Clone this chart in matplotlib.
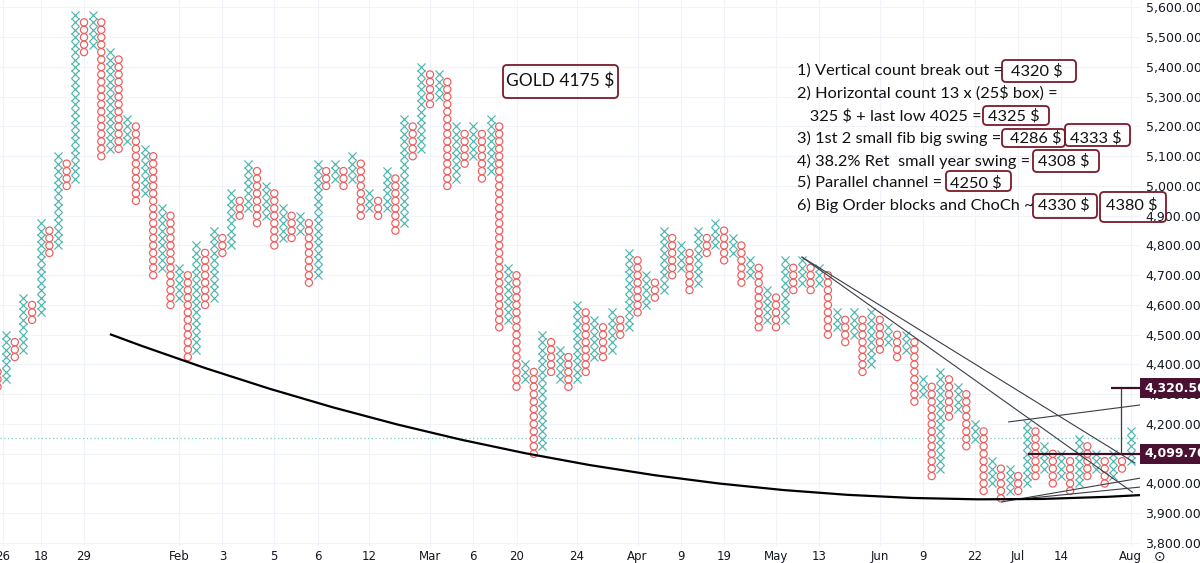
import matplotlib
matplotlib.use("Agg")
import matplotlib.pyplot as plt
from matplotlib.patches import FancyBboxPatch, PathPatch
from matplotlib.path import Path
import matplotlib.transforms as mtransforms
import numpy as np

plt.rcParams['font.family'] = ['DejaVu Sans']

BOX = 25  # box size in $

# point & figure columns (first column is O, then X/O alternate)
col_high = [4375, 4500, 4475, 4625, 4600, 4875, 4850, 5100, 5075, 5575,
            5550, 5575, 5550, 5450, 5425, 5225, 5200, 5125, 5100, 4925,
            4900, 4725, 4700, 4800, 4775, 4850, 4825, 4975, 4950, 5075,
            5050, 5000, 4975, 4925, 4900, 4900, 4875, 5075, 5050, 5075,
            5050, 5100, 5075, 4975, 4950, 5050, 5025, 5225, 5200, 5400,
            5375, 5375, 5350, 5200, 5175, 5200, 5175, 5225, 5200, 4725,
            4700, 4400, 4375, 4500, 4475, 4450, 4425, 4600, 4575, 4550,
            4525, 4575, 4550, 4775, 4750, 4700, 4675, 4850, 4825, 4800,
            4775, 4850, 4825, 4875, 4850, 4825, 4800, 4750, 4725, 4650,
            4625, 4750, 4725, 4750, 4725, 4725, 4700, 4575, 4550, 4575,
            4550, 4575, 4550, 4525, 4500, 4500, 4475, 4350, 4325, 4375,
            4350, 4325, 4300, 4200, 4175, 4075, 4050, 4050, 4025, 4200,
            4175, 4125, 4100, 4100, 4075, 4150, 4125, 4100, 4075, 4100,
            4075, 4175]
col_low = [4325, 4350, 4425, 4450, 4550, 4575, 4775, 4800, 5000, 5025,
           5450, 5475, 5100, 5125, 5125, 5150, 4950, 4975, 4700, 4725,
           4600, 4625, 4425, 4450, 4600, 4625, 4775, 4800, 4900, 4925,
           4875, 4900, 4800, 4825, 4825, 4850, 4675, 4700, 5000, 5025,
           5000, 5025, 4900, 4925, 4900, 4925, 4850, 4875, 5100, 5125,
           5275, 5300, 5000, 5025, 5075, 5100, 5025, 5050, 4525, 4550,
           4325, 4350, 4100, 4125, 4375, 4350, 4325, 4350, 4375, 4425,
           4425, 4450, 4500, 4525, 4575, 4600, 4625, 4650, 4700, 4725,
           4650, 4675, 4775, 4800, 4750, 4775, 4675, 4700, 4525, 4550,
           4525, 4550, 4650, 4675, 4650, 4675, 4500, 4525, 4475, 4500,
           4375, 4400, 4450, 4475, 4425, 4450, 4275, 4300, 4025, 4050,
           4225, 4250, 4125, 4150, 3975, 4000, 3950, 3975, 3975, 4000,
           4025, 4050, 4000, 4025, 3975, 4000, 4025, 4050, 4000, 4025,
           4050, 4075]

tick_cols = [0.6, 5, 10, 21, 26, 32, 37, 43, 50, 55, 60, 67, 74, 79, 84,
             90, 95, 102, 107, 113, 118, 123, 131]
tick_labels = ["26", "18", "29", "Feb", "3", "5", "6", "12", "Mar", "6", "20",
               "24", "Apr", "9", "19", "May", "13", "Jun", "9", "22", "Jul",
               "14", "Aug"]
price_ticks = list(range(3800, 5700, 100))
last_price = 4153
tag_prices = [4320.5, 4099.7]

# hand drawn lines (column index, price)
trend_lines = [
    [(93.0, 4761), (131.2, 3971)],
    [(93.0, 4761), (131.5, 4069)],
    [(116.9, 4207), (132.1, 4264)],
    [(116.1, 3938), (132.1, 4018)],
    [(119.4, 3951), (132.1, 3988)],
]
curve_pts = [(13.0, 4502), (71.85, 3857), (132.1, 3961)]
target_col = 129.9

notes = [
    ("1) Vertical count break out =", ["4320 $"]),
    ("2) Horizontal count 13 x (25$ box) =", []),
    ("   325 $ + last low 4025 =", ["4325 $"]),
    ("3) 1st 2 small fib big swing =", ["4286 $", "4333 $"]),
    ("4) 38.2% Ret  small year swing =", ["4308 $"]),
    ("5) Parallel channel =", ["4250 $"]),
    ("6) Big Order blocks and ChoCh ~", ["4330 $", "4380 $"]),
]

X_COL = '#4db6ac'
O_COL = '#f05a5a'
TAG = '#4a1133'
RING = '#7a1a2a'

fig = plt.figure(figsize=(12, 5.63), dpi=100)
ax = fig.add_axes([0, 17 / 563, 1140 / 1200, 546 / 563])
ax.set_xlim(0.289, 132.08)
ax.set_ylim(3789.9, 5625.2)

xs_x, ys_x, xs_o, ys_o = [], [], [], []
for i, (hi, lo) in enumerate(zip(col_high, col_low)):
    lv = np.arange(lo, hi + 1, BOX)
    if i % 2 == 0:
        xs_o += [i] * len(lv)
        ys_o += list(lv)
    else:
        xs_x += [i] * len(lv)
        ys_x += list(lv)

ax.scatter(xs_x, ys_x, marker='x', s=34, c=X_COL, linewidths=0.85, zorder=3)
ax.scatter(xs_o, ys_o, marker='o', s=27, facecolors='none', edgecolors=O_COL,
           linewidths=0.85, zorder=3)

ax.axhline(last_price, color='#80cbc4', lw=0.9, ls=(0, (1, 2)), zorder=2)

for (x0, y0), (x1, y1) in trend_lines:
    ax.plot([x0, x1], [y0, y1], color='#3a3d47', lw=0.8, zorder=4)

curve = Path(curve_pts, [Path.MOVETO, Path.CURVE3, Path.CURVE3])
ax.add_patch(PathPatch(curve, fc='none', ec='black', lw=1.6, zorder=4))

ax.hlines(tag_prices[1], 119.1, 132.08, color='#3d0c25', lw=1.6, zorder=5)
ax.hlines(tag_prices[0], 128.7, 132.08, color='#3d0c25', lw=1.6, zorder=5)
ax.vlines(target_col, tag_prices[1], tag_prices[0], color='#3a3d47', lw=0.9, zorder=5)

ax.set_xticks(tick_cols)
ax.set_xticklabels(tick_labels)
ax.set_yticks(price_ticks)
ax.set_yticklabels([f"{p:,.2f}" for p in price_ticks])
ax.yaxis.tick_right()
ax.tick_params(axis='both', length=0, labelsize=8.5, colors='#131722')
ax.tick_params(axis='y', pad=4, labelsize=9)
ax.tick_params(axis='x', pad=3)
ax.grid(True, color='#f0f3fa', lw=0.8)
ax.set_axisbelow(True)
for s in ax.spines.values():
    s.set_visible(False)

trans = mtransforms.blended_transform_factory(ax.transAxes, ax.transData)
for p in tag_prices:
    ax.text(1.0035, p, f"{p:,.2f}", transform=trans, va='center', ha='left',
            fontsize=9, color='white', fontweight='bold', clip_on=False, zorder=10,
            bbox=dict(boxstyle='square,pad=0.3', fc=TAG, ec='none'))

# annotation layer in pixel units
ov = fig.add_axes([0, 0, 1, 1])
ov.set_xlim(0, 1200)
ov.set_ylim(563, 0)
ov.axis('off')
ov.set_facecolor('none')

tf = ['Lato', 'DejaVu Sans']
line_y = [71, 93, 116, 138, 161, 183, 205]
num_x = [[1011], [], [988], [1010, 1070], [1038], [950], [1038, 1106]]
for (txt, nums), y, nx in zip(notes, line_y, num_x):
    ov.text(797, y, txt, fontsize=11.8, family=tf, va='center', ha='left', color='#111111')
    for n, x in zip(nums, nx):
        ov.text(x, y, n, fontsize=11.8, family=tf, va='center', ha='left', color='#111111')

rings = [(1002, 60, 1076, 82), (983, 106, 1049, 125), (1002, 129, 1065, 147),
         (1065, 124, 1130, 146), (1033, 150, 1099, 172), (946, 171, 1011, 191),
         (1033, 194, 1097, 218), (1100, 192, 1166, 222), (503, 65, 618, 98)]
for x0, y0, x1, y1 in rings:
    ov.add_patch(FancyBboxPatch((x0 + 4, y0 + 4), x1 - x0 - 8, y1 - y0 - 8,
                                boxstyle='round,pad=4', fc='none', ec=RING, lw=1.3))
ov.text(560, 81, "GOLD 4175 $", fontsize=12.5, family=tf, va='center', ha='center',
        color='#111111')
ov.text(1160, 557, "\u2299", fontsize=10, va='center', ha='center', color='#131722')

fig.savefig("out.png", dpi=100)
